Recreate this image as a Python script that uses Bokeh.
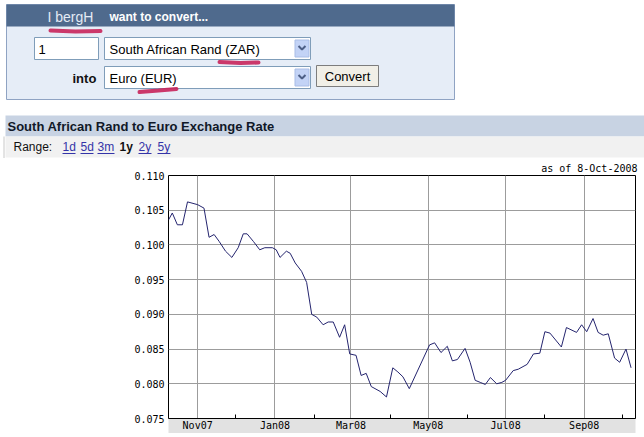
from datetime import datetime
import pandas as pd
from bokeh.plotting import figure
from bokeh.layouts import column
from bokeh.models import Range1d, FixedTicker, DatetimeTickFormatter, NumeralTickFormatter
from bokeh.core.properties import value
from bokeh.embed import file_html
from bokeh.resources import INLINE

# ---------------- data ----------------
DATES = [
    "2007-10-09", "2007-10-12", "2007-10-16", "2007-10-20", "2007-10-24", "2007-11-01",
    "2007-11-06", "2007-11-10", "2007-11-14", "2007-11-18", "2007-11-23", "2007-11-28",
    "2007-12-03", "2007-12-07", "2007-12-10", "2007-12-15", "2007-12-20", "2007-12-24",
    "2007-12-30", "2008-01-02", "2008-01-05", "2008-01-10", "2008-01-13", "2008-01-17",
    "2008-01-22", "2008-01-26", "2008-01-30", "2008-02-03", "2008-02-08", "2008-02-12",
    "2008-02-16", "2008-02-21", "2008-02-25", "2008-02-29", "2008-03-05", "2008-03-09",
    "2008-03-13", "2008-03-17", "2008-03-24", "2008-03-29", "2008-04-03", "2008-04-07",
    "2008-04-11", "2008-04-16", "2008-05-02", "2008-05-06", "2008-05-11", "2008-05-16",
    "2008-05-20", "2008-05-24", "2008-05-30", "2008-06-03", "2008-06-07", "2008-06-11",
    "2008-06-15", "2008-06-19", "2008-06-24", "2008-06-28", "2008-07-01", "2008-07-07",
    "2008-07-11", "2008-07-18", "2008-07-23", "2008-07-28", "2008-08-01", "2008-08-05",
    "2008-08-14", "2008-08-18", "2008-08-26", "2008-08-30", "2008-09-03", "2008-09-08",
    "2008-09-12", "2008-09-16", "2008-09-20", "2008-09-25", "2008-09-29", "2008-10-04",
    "2008-10-08",
]
RATES = [
    0.1036, 0.1046, 0.1029, 0.1029, 0.1062, 0.1058,
    0.1053, 0.1011, 0.1015, 0.1005, 0.0991, 0.0982,
    0.0996, 0.1016, 0.1016, 0.1005, 0.0993, 0.0996,
    0.0996, 0.0993, 0.0982, 0.0991, 0.0988, 0.0974,
    0.0962, 0.0946, 0.0900, 0.0896, 0.0885, 0.0889,
    0.0889, 0.0867, 0.0885, 0.0843, 0.0841, 0.0812,
    0.0815, 0.0796, 0.0789, 0.0781, 0.0823, 0.0817,
    0.0810, 0.0793, 0.0856, 0.0859, 0.0845, 0.0854,
    0.0833, 0.0835, 0.0851, 0.0831, 0.0805, 0.0802,
    0.0799, 0.0809, 0.0800, 0.0802, 0.0805, 0.0819,
    0.0821, 0.0828, 0.0843, 0.0844, 0.0875, 0.0873,
    0.0853, 0.0881, 0.0874, 0.0885, 0.0875, 0.0894,
    0.0874, 0.0870, 0.0872, 0.0837, 0.0831, 0.0850,
    0.0823,
]
Y_TICKS = [0.075, 0.080, 0.085, 0.090, 0.095, 0.100, 0.105, 0.110]
X_GRID_MONTHS = ["2007-11-01", "2008-01-01", "2008-03-01", "2008-05-01", "2008-07-01", "2008-09-01"]
X_MINOR_MONTHS = ["2007-12-01", "2008-02-01", "2008-04-01", "2008-06-01", "2008-08-01", "2008-10-01"]
AS_OF = "as of  8-Oct-2008"
CHART_TITLE = "South African Rand to Euro Exchange Rate"
RANGE_LABEL = "Range:"
RANGE_LINKS = ["1d", "5d", "3m", "1y", "2y", "5y"]
FORM_USER = "I bergH"
FORM_HEAD = "want to convert..."
AMOUNT = "1"
FROM_CCY = "South African Rand (ZAR)"
TO_CCY = "Euro (EUR)"
INTO = "into"
BUTTON = "Convert"

# ---------------- layout / styles ----------------
W = 644
SANS = value("Liberation Sans")
MONO = "DejaVu Sans Mono"

def ms(lst):
    return [int(pd.Timestamp(s).value // 10**6) for s in lst]

# ---- page header part (pixel coordinates of the page) ----
top = figure(width=W, height=158, x_range=Range1d(0, W), y_range=Range1d(158, 0),
             x_axis_location=None, y_axis_location=None, toolbar_location=None,
             output_backend="svg", min_border=0, outline_line_color=None)
top.frame_align = False
top.grid.visible = False
top.background_fill_color = "white"
top.border_fill_color = "white"

# form box
top.quad(left=[6], right=[454], top=[4], bottom=[99], fill_color="#e6edf7", line_color="#8fa3c3")
top.quad(left=[6], right=[454], top=[4], bottom=[26], fill_color="#4f6a8d", line_color=None)
top.text(x=[47], y=[16], text=[FORM_USER], text_font=SANS, text_font_size="14px",
         text_color="#e4ebf5", text_baseline="middle")
top.text(x=[109], y=[16], text=[FORM_HEAD], text_font=SANS, text_font_size="12px",
         text_font_style="bold", text_color="white", text_baseline="middle")
# inputs
top.quad(left=[34, 104, 104], right=[98, 310, 310], top=[37, 37, 66], bottom=[59, 59, 88],
         fill_color="white", line_color="#7f9db9")
top.quad(left=[294.5, 294.5], right=[308.5, 308.5], top=[39.5, 68.5], bottom=[56.5, 85.5],
         fill_color="#c3d3f6", line_color="#a9bde6")
top.multi_line(xs=[[298, 301.5, 305], [298, 301.5, 305]], ys=[[45.5, 49, 45.5], [74.5, 78, 74.5]],
               line_color="#4d5f86", line_width=2)
top.text(x=[38, 109, 109], y=[48.5, 48.5, 77.5], text=[AMOUNT, FROM_CCY, TO_CCY],
         text_font=SANS, text_font_size="13px", text_color="black", text_baseline="middle")
top.text(x=[72], y=[77.5], text=[INTO], text_font=SANS, text_font_size="13px",
         text_font_style="bold", text_color="#111111", text_baseline="middle")
top.quad(left=[316], right=[378], top=[65], bottom=[86], fill_color="#f1efe7", line_color="#7d7d7d")
top.text(x=[347], y=[75.5], text=[BUTTON], text_font=SANS, text_font_size="13px",
         text_color="black", text_baseline="middle", text_align="center")
# hand-drawn red marks
top.multi_line(xs=[[50, 75, 100], [219, 240, 258], [139, 158, 176]],
               ys=[[30, 31, 30.5], [61.5, 62.5, 62], [91.5, 90, 88.5]],
               line_color="#c8235a", line_width=4, line_cap="round", line_alpha=0.9)

# chart heading bar and range row
top.quad(left=[5], right=[644], top=[115], bottom=[136], fill_color="#c8d3e3", line_color=None)
top.text(x=[7], y=[125.5], text=[CHART_TITLE], text_font=SANS, text_font_size="13px",
         text_font_style="bold", text_color="#101828", text_baseline="middle")
top.quad(left=[5], right=[644], top=[136], bottom=[157], fill_color="#f1f1f1", line_color=None)
top.segment(x0=[3.5], x1=[3.5], y0=[136], y1=[158], line_color="#c8c8c8", line_width=1)
top.text(x=[13], y=[146.5], text=[RANGE_LABEL], text_font=SANS, text_font_size="12px",
         text_color="#111111", text_baseline="middle")
link_x = [62, 80, 97, 119, 138, 157]
link_w = [13, 13, 17, 0, 13, 13]
plain = [i for i, t in enumerate(RANGE_LINKS) if t != "1y"]
top.text(x=[link_x[i] for i in plain], y=[146.5] * len(plain), text=[RANGE_LINKS[i] for i in plain],
         text_font=SANS, text_font_size="12px", text_color="#3434a8", text_baseline="middle")
top.segment(x0=[link_x[i] for i in plain], x1=[link_x[i] + link_w[i] for i in plain],
            y0=[153] * len(plain), y1=[153] * len(plain), line_color="#3434a8", line_width=1)
top.text(x=[link_x[3]], y=[146.5], text=["1y"], text_font=SANS, text_font_size="12px",
         text_font_style="bold", text_color="#111111", text_baseline="middle")

# ---- chart ----
p = figure(width=W, height=275, x_axis_type="datetime",
           x_range=Range1d(datetime(2007, 10, 9), datetime(2008, 10, 11, 12)),
           y_range=Range1d(0.075, 0.110), toolbar_location=None, output_backend="svg",
           min_border_left=168, min_border_right=9, min_border_top=17, min_border_bottom=13,
           title=AS_OF)
p.frame_align = False
p.title.align = "right"
p.title.offset = -8
p.title.text_font = MONO
p.title.text_font_size = "10px"
p.title.text_font_style = "normal"
p.title.text_color = "black"
p.title.standoff = 3
p.background_fill_color = "white"
p.border_fill_color = "white"
p.outline_line_color = "black"
p.outline_line_width = 1

major = ms(X_GRID_MONTHS)
minor = ms(X_MINOR_MONTHS)
xa = p.xaxis[0]
xa.ticker = FixedTicker(ticks=major, minor_ticks=minor)
xa.formatter = DatetimeTickFormatter(months="%b%y", days="%b%y", years="%b%y")
xa.major_tick_in = 0
xa.major_tick_out = 0
xa.minor_tick_in = 4
xa.minor_tick_out = 0
xa.minor_tick_line_color = "black"
xa.axis_line_color = "black"
xa.major_label_standoff = 1
xa.major_label_text_font = MONO
xa.major_label_text_font_size = "10px"
xa.major_label_text_color = "black"
xa.background_fill_color = "#e2e2e2"

ya = p.yaxis[0]
ya.ticker = FixedTicker(ticks=Y_TICKS)
ya.formatter = NumeralTickFormatter(format="0.000")
ya.major_tick_in = 0
ya.major_tick_out = 0
ya.minor_tick_in = 0
ya.minor_tick_out = 0
ya.axis_line_color = None
ya.major_label_standoff = 4
ya.major_label_text_font = MONO
ya.major_label_text_font_size = "10px"
ya.major_label_text_color = "black"

p.xgrid.ticker = FixedTicker(ticks=major)
p.ygrid.ticker = FixedTicker(ticks=Y_TICKS)
p.grid.grid_line_color = "#9c9c9c"
p.grid.grid_line_alpha = 1.0

p.line(x=pd.to_datetime(DATES), y=RATES, line_color="#24246e", line_width=1)

page = column(top, p, spacing=0)
open("out.html", "w").write(file_html(page, INLINE))
